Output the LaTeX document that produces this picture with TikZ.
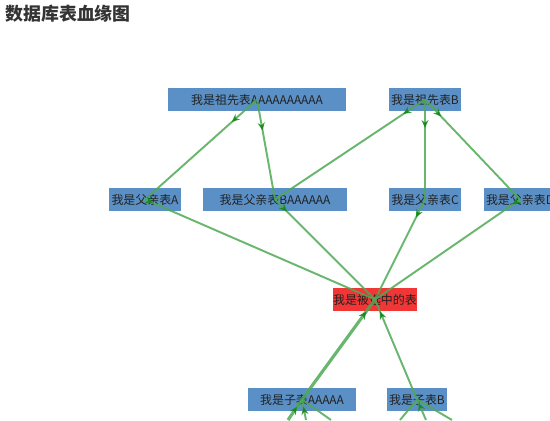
\documentclass[tikz,border=0pt]{standalone}
\usepackage{fontspec}
\setmainfont{Noto Sans CJK SC}
\usetikzlibrary{positioning,arrows.meta,decorations.markings}
\definecolor{boxblue}{HTML}{5B90C6}
\definecolor{selred}{HTML}{F23535}
\definecolor{edgegreen}{HTML}{4FA955}
\definecolor{tipgreen}{HTML}{178A1A}
\definecolor{inkdark}{HTML}{222222}
\definecolor{titleink}{HTML}{333333}
\tikzset{
  lg box/.style={fill=boxblue, text=inkdark, font=\fontsize{6.8}{8}\selectfont, minimum height=0.46cm, inner sep=0pt},
  lg sel/.style={lg box, fill=selred},
  lg edge/.style={draw=edgegreen, line width=1.1pt, draw opacity=0.85},
  lg fwd/.style={postaction={decorate}, decoration={markings,
      mark=at position #1 with {\arrow[tipgreen]{Stealth[length=4.5pt,width=4pt]}}}},
  lg back/.style={postaction={decorate}, decoration={markings,
      mark=at position #1 with {\arrowreversed[tipgreen]{Stealth[length=4.5pt,width=4pt]}}}},
  lg title/.style={font=\fontsize{10.2}{12}\selectfont\bfseries, text=titleink, inner sep=0pt, anchor=west},
}
\begin{document}
\begin{tikzpicture}[x=0.02cm, y=0.02cm]
  \useasboundingbox (0,0) rectangle (550,-420);
  \clip (0,0) rectangle (550,-420);
  \node[lg title] (title) at (5,-14) {数据库表血缘图};
  % ancestors
  \node[lg box, minimum width=3.56cm] (za) at (257,-99.5) {我是祖先表AAAAAAAAAA};
  \node[lg box, minimum width=1.44cm] (zb) at (425,-99.5) {我是祖先表B};
  % parents
  \node[lg box, minimum width=1.44cm] (fa) at (145,-199.5) {我是父亲表A};
  \node[lg box, minimum width=2.88cm] (fb) at (275,-199.5) {我是父亲表BAAAAAA};
  \node[lg box, minimum width=1.44cm] (fc) at (425,-199.5) {我是父亲表C};
  \node[lg box, minimum width=1.44cm] (fd) at (520,-199.5) {我是父亲表D};
  % selected table
  \node[lg sel, minimum width=1.68cm] (sel) at (375,-299.5) {我是被选中的表};
  % children
  \node[lg box, minimum width=2.16cm] (ca) at (302,-399.5) {我是子表AAAAA};
  \node[lg box, minimum width=1.2cm] (cb) at (417,-399.5) {我是子表B};
  % grandchildren lie below the picture
  \coordinate (ga1) at (288,-420);
  \coordinate (ga2) at (306,-420);
  \coordinate (ga3) at (331,-420);
  \coordinate (gb1) at (400,-420);
  \coordinate (gb2) at (426,-420);
  \coordinate (gb3) at (452,-420);
  % edges
  \draw[lg edge, lg fwd=0.225] (za.center) -- (fa.center);
  \draw[lg edge, lg fwd=0.31] (za.center) -- (fb.center);
  \draw[lg edge, lg fwd=0.145] (zb.center) -- (fb.center);
  \draw[lg edge, lg fwd=0.285] (zb.center) -- (fc.center);
  \draw[lg edge, lg fwd=0.17] (zb.center) -- (fd.center);
  \draw[lg edge, lg fwd=0.035] (fa.center) -- (sel.center);
  \draw[lg edge, lg fwd=0.12] (fb.center) -- (sel.center);
  \draw[lg edge, lg fwd=0.18] (fc.center) -- (sel.center);
  \draw[lg edge, lg fwd=0.05] (fd.center) -- (sel.center);
  \draw[lg edge, line width=1.8pt, lg back=0.12] (sel.center) -- (ca.center);
  \draw[lg edge, lg back=0.12] (sel.center) -- (cb.center);
  \draw[lg edge, line width=1.8pt, lg back=0.35] (ca.center) -- (ga1);
  \draw[lg edge, lg back=0.35] (ca.center) -- (ga2);
  \draw[lg edge] (ca.center) -- (ga3);
  \draw[lg edge] (cb.center) -- (gb1);
  \draw[lg edge, lg back=0.17] (cb.center) -- (gb2);
  \draw[lg edge] (cb.center) -- (gb3);
\end{tikzpicture}
\end{document}
